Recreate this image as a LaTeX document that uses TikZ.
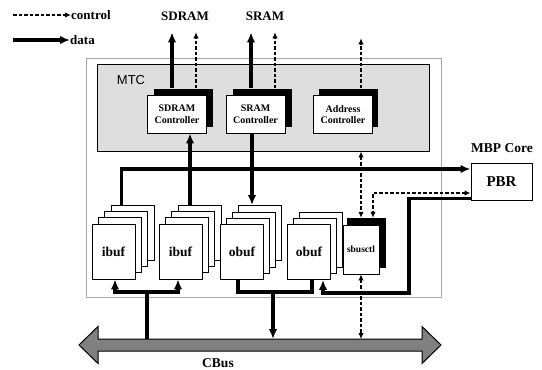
\documentclass[tikz,border=0pt]{standalone}
\usepackage{fontspec}
\setmainfont{Liberation Serif}
\newfontfamily\mtcfont{Liberation Sans}
\usetikzlibrary{arrows.meta,calc}
\begin{document}
\begin{tikzpicture}[x=1pt,y=-1pt,
  dataline/.style={line width=3.4pt},
  data/.style={line width=3.4pt,-{Latex[length=10pt,width=8.5pt]}},
  ctrl/.style={line width=1.4pt,dash pattern=on 3.5pt off 2pt,-{Latex[length=6pt,width=5.5pt]}},
  ctrlboth/.style={line width=1.4pt,dash pattern=on 3.5pt off 2pt,{Latex[length=6pt,width=5.5pt]}-{Latex[length=6pt,width=5.5pt]}},
  ctrlbox/.style={draw,fill=white,line width=0.8pt,minimum width=59pt,minimum height=38pt,inner sep=0pt,align=center,font=\bfseries\fontsize{10}{11.5}\selectfont},
  shadowbox/.style={fill=black,minimum width=59pt,minimum height=38pt,inner sep=0pt},
  bufbox/.style={draw,fill=white,line width=0.8pt,minimum width=43pt,minimum height=55pt,inner sep=0pt,font=\bfseries\fontsize{13.5}{15}\selectfont},
  lbl/.style={font=\bfseries\fontsize{13}{15}\selectfont,inner sep=0pt}
]
\useasboundingbox (0,0) rectangle (542,370);

% legend
\node[lbl,anchor=west] (legc) at (71,15) {control};
\node[lbl,anchor=west] (legd) at (70,40) {data};
\draw[ctrl] (13,15) -- (legc.west);
\draw[data] (13,40) -- (legd.west);

% top labels
\node[lbl] (sdramlbl) at (185,16) {SDRAM};
\node[lbl] (sramlbl) at (265,16) {SRAM};

% outer box and MTC
\node[draw=black!35,line width=1pt,minimum width=355pt,minimum height=239pt,inner sep=0pt] (outer) at (263.5,177.5) {};
\node[draw,fill=black!13,line width=0.9pt,minimum width=332pt,minimum height=87pt,inner sep=0pt] (mtc) at (263,107.5) {};
\node[font=\mtcfont\fontsize{13}{15}\selectfont,inner sep=0pt] (mtclbl) at (131,80) {MTC};

% controllers
\node[shadowbox] (sdramsh) at (183,107.5) {};
\node[ctrlbox] (sdram) at (177,114) {SDRAM\\Controller};
\node[shadowbox] (sramsh) at (262.5,107.5) {};
\node[ctrlbox] (sram) at (255.5,114) {SRAM\\Controller};
\node[shadowbox] (addrsh) at (348,107.5) {};
\node[ctrlbox] (addr) at (343,114.5) {Address\\Controller};

% upward arrows
\draw[data] ($(sdramsh.north)+(-11,0)$) -- ++(0,-56);
\draw[ctrl] ($(sdramsh.north)+(13,0)$) -- ++(0,-56);
\draw[data] ($(sramsh.north)+(-11.5,0)$) -- ++(0,-56);
\draw[ctrl] ($(sramsh.north)+(12.5,0)$) -- ++(0,-56);
\draw[ctrl] ($(addrsh.north)+(13,0)$) -- ++(0,-50);

% PBR
\node[lbl,font=\bfseries\fontsize{13.5}{15}\selectfont] (mbp) at (502,148) {MBP Core};
\node[draw,line width=1pt,minimum width=61pt,minimum height=37pt,inner sep=0pt,font=\bfseries\fontsize{15}{17}\selectfont] (pbr) at (501.5,181.5) {PBR};

% buffer stacks
\node[bufbox] (ibuf1b) at (132.4,232.6) {};
\foreach \k in {2,1} \node[bufbox] at ({113.5+6.3*\k},{251.5-6.3*\k}) {};
\node[bufbox] (ibuf1) at (113.5,251.5) {ibuf};

\node[bufbox] (ibuf2b) at (199.4,232.6) {};
\foreach \k in {2,1} \node[bufbox] at ({180.5+6.3*\k},{251.5-6.3*\k}) {};
\node[bufbox] (ibuf2) at (180.5,251.5) {ibuf};

\node[bufbox] (obuf1b) at (260,233) {};
\foreach \k in {2,1} \node[bufbox] at ({242+6*\k},{252-6.3*\k}) {};
\node[bufbox] (obuf1) at (242,252) {obuf};

\node[bufbox] (obuf2b) at (321,239.5) {};
\node[bufbox] at (315,245.7) {};
\node[bufbox] (obuf2) at (309,252) {obuf};

% sbusctl
\node[fill=black,minimum width=39pt,minimum height=50pt,inner sep=0pt] (sbsh) at (366.5,243) {};
\node[draw,fill=white,line width=0.8pt,minimum width=36pt,minimum height=49pt,inner sep=0pt,font=\bfseries\fontsize{9.5}{11}\selectfont] (sbus) at (361,249.5) {sbusctl};

% CBus
\draw[fill=black!50,line width=1pt] (79,345) -- (98,326.5) -- (98,339) -- (422,339) -- (422,326.5) -- (441,345) -- (422,363.5) -- (422,351) -- (98,351) -- (98,363.5) -- cycle;
\coordinate (cbusN) at (260,339);
\node[lbl,font=\bfseries\fontsize{13.5}{15}\selectfont] (cbuslbl) at (218,363) {CBus};

% data connectors
\draw[data] ($(ibuf1b.north west)+(11,0)$) |- ($(pbr.west)+(0,-12.5)$);
\coordinate (a) at ($(ibuf2b.north)+(-9.4,0)$);
\draw[data] (a) -- (a |- sdram.south);
\coordinate (b) at ($(sram.south)+(-3.5,0)$);
\draw[data] (b) -- (b |- obuf1b.north);

\coordinate (ibj) at (147,292);
\draw[dataline] (ibj) -- (ibj |- cbusN);
\draw[data] (ibj) -| ($(ibuf1.south)+(1.5,0)$);
\draw[data] (ibj) -| ($(ibuf2.south)+(-2.5,0)$);

\coordinate (obj) at (273,292);
\draw[dataline] ($(obuf1.south)+(-4,0)$) |- (obj) -| ($(obuf2.south)+(3,0)$);
\draw[data] (obj) -- (obj |- cbusN);

\coordinate (pc) at (409,293);
\draw[data] ($(pbr.south west)+(0,-2)$) -| (pc) -| ($(obuf2.south)+(14,0)$);

% control connectors
\draw[ctrlboth] (sbus.center |- mtc.south) -- (sbus.center |- sbsh.north);
\draw[ctrlboth] ($(pbr.west)+(0,11.5)$) -| ($(sbus.center |- sbsh.north)+(12,0)$);
\draw[ctrlboth] (sbus.south) -- (sbus.south |- cbusN);
\end{tikzpicture}
\end{document}
